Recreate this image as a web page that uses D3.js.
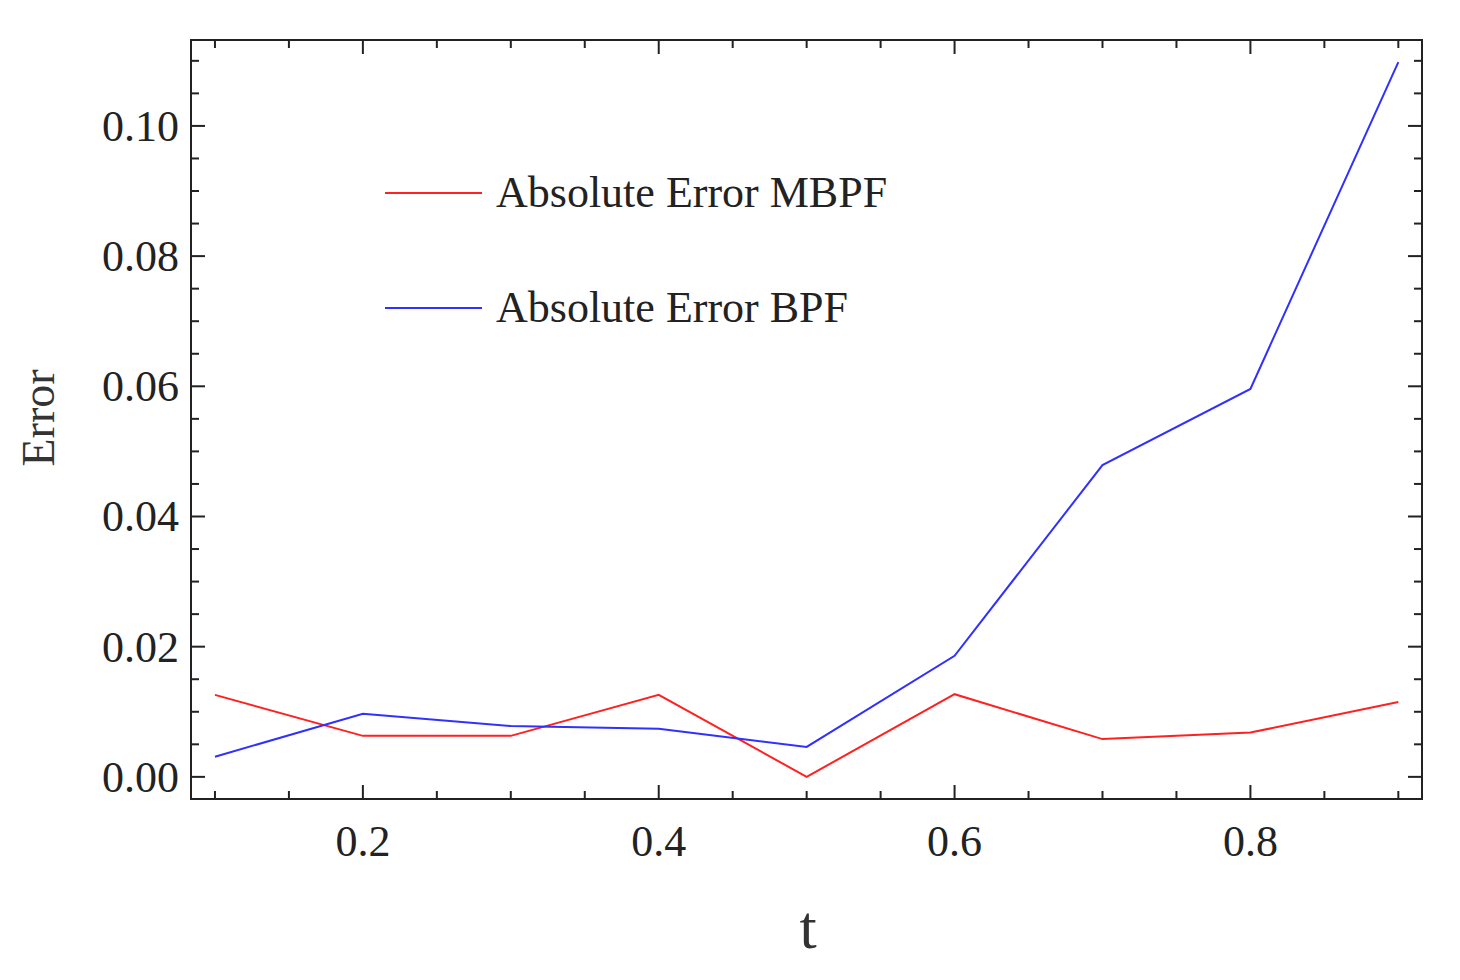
<!DOCTYPE html>
<html><head><meta charset="utf-8">
<script src="https://cdn.jsdelivr.net/npm/d3@7"></script>
<style>body{margin:0;background:#fff}</style></head>
<body><svg id="c" width="1460" height="980"></svg>
<script>
const tValues=[0.1,0.2,0.3,0.4,0.5,0.6,0.7,0.8,0.9];
const errMBPF=[0.0126,0.0063,0.0063,0.0126,0.0,0.0127,0.0058,0.0068,0.0115];
const errBPF=[0.0031,0.0097,0.0078,0.0074,0.0046,0.0186,0.0479,0.0596,0.1098];
const xTicks=[0.2,0.4,0.6,0.8];
const yTicks=[0,0.02,0.04,0.06,0.08,0.10];
const seriesNames=["Absolute Error MBPF","Absolute Error BPF"];
const colors=["#ff2020","#3030ff"];

const svg=d3.select("#c");
const L=191,R=1422,T=40,B=799;
const x=d3.scaleLinear().domain([0.0838,0.916]).range([L,R]);
const y=d3.scaleLinear().domain([-0.0034,0.1132]).range([B,T]);
const font="'Liberation Serif', 'Times New Roman', serif";
const g=svg.append("g");
g.append("rect").attr("x",L).attr("y",T).attr("width",R-L).attr("height",B-T).attr("fill","none").attr("stroke","#222").attr("stroke-width",2);
const xMinor=d3.range(0.1,0.9001,0.05);
const yMinor=d3.range(0,0.1101,0.005);
const isMajor=(v,arr)=>arr.some(a=>Math.abs(a-v)<1e-6);
xMinor.forEach(v=>{const len=isMajor(v,xTicks)?14:8;
 g.append("line").attr("x1",x(v)).attr("x2",x(v)).attr("y1",B).attr("y2",B-len).attr("stroke","#222").attr("stroke-width",2);
 g.append("line").attr("x1",x(v)).attr("x2",x(v)).attr("y1",T).attr("y2",T+len).attr("stroke","#222").attr("stroke-width",2);});
yMinor.forEach(v=>{const len=isMajor(v,yTicks)?14:8;
 g.append("line").attr("y1",y(v)).attr("y2",y(v)).attr("x1",L).attr("x2",L+len).attr("stroke","#222").attr("stroke-width",2);
 g.append("line").attr("y1",y(v)).attr("y2",y(v)).attr("x1",R).attr("x2",R-len).attr("stroke","#222").attr("stroke-width",2);});
xTicks.forEach(v=>g.append("text").attr("x",x(v)).attr("y",B+57).attr("text-anchor","middle").attr("font-family",font).attr("font-size",44).attr("fill","#222").text(v.toFixed(1)));
yTicks.forEach(v=>g.append("text").attr("x",L-12).attr("y",y(v)+15).attr("text-anchor","end").attr("font-family",font).attr("font-size",44).attr("fill","#222").text(v.toFixed(2)));
g.append("text").attr("transform","translate(54,418) rotate(-90)").attr("text-anchor","middle").attr("font-family",font).attr("font-size",46).attr("fill","#333").text("Error");
g.append("text").attr("x",808).attr("y",948).attr("text-anchor","middle").attr("font-family",font).attr("font-size",62).attr("fill","#333").text("t");
const line=d3.line().x((d,i)=>x(tValues[i])).y(d=>y(d));
[errMBPF,errBPF].forEach((s,k)=>g.append("path").attr("d",line(s)).attr("fill","none").attr("stroke",colors[k]).attr("stroke-width",2));
seriesNames.forEach((n,k)=>{const yy=193+k*115;
 g.append("line").attr("x1",385).attr("x2",482).attr("y1",yy).attr("y2",yy).attr("stroke",colors[k]).attr("stroke-width",2);
 g.append("text").attr("x",496).attr("y",yy+14).attr("font-family",font).attr("font-size",44).attr("fill","#222").text(n);});
</script></body></html>
